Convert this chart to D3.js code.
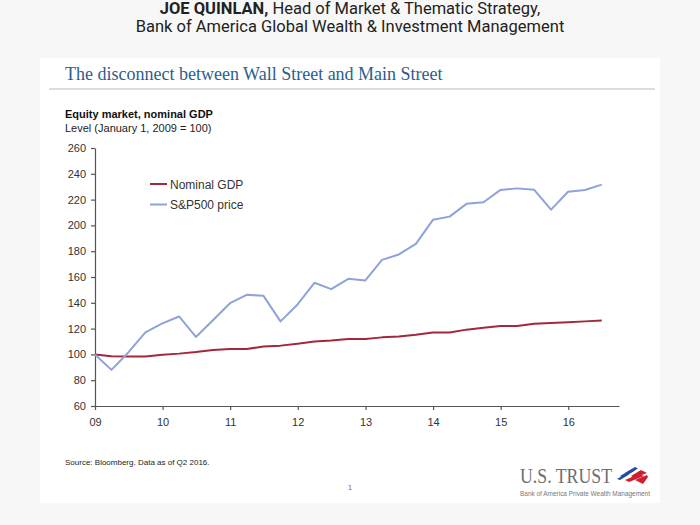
<!DOCTYPE html>
<html><head><meta charset="utf-8">
<script src="https://cdn.jsdelivr.net/npm/d3@7"></script>
<style>body{margin:0;background:#f7f7f7;} svg{display:block}</style>
</head><body>
<svg id="c" width="700" height="525"></svg>
<script>
// ---- data ----
const quarters = [
  "2009-01-01","2009-03-31","2009-06-30","2009-09-30","2009-12-31",
  "2010-03-31","2010-06-30","2010-09-30","2010-12-31",
  "2011-03-31","2011-06-30","2011-09-30","2011-12-31",
  "2012-03-31","2012-06-30","2012-09-30","2012-12-31",
  "2013-03-31","2013-06-30","2013-09-30","2013-12-31",
  "2014-03-31","2014-06-30","2014-09-30","2014-12-31",
  "2015-03-31","2015-06-30","2015-09-30","2015-12-31",
  "2016-03-31","2016-06-30"
];
const nominalGDP = [100, 98.5, 98.3, 98.4, 99.8, 100.6, 101.8, 103.4, 104.1, 104.2, 106.1, 106.8, 108.3, 110.0, 110.7, 111.9, 111.9, 113.2, 113.9, 115.2, 116.9, 116.9, 119.2, 120.7, 122.0, 122.0, 123.8, 124.3, 124.9, 125.6, 126.3];
const sp500 = [100, 88, 101.5, 117, 124, 129.4, 113.5, 126.5, 139.7, 146.2, 145.4, 125.6, 138.7, 155.5, 150.6, 158.6, 157.3, 173.3, 177.5, 185.7, 204.3, 206.8, 216.7, 217.9, 227.5, 228.7, 227.7, 212.2, 226.1, 227.5, 231.6];
const seriesNames = ["Nominal GDP", "S&P500 price"];
const yTicks = [60, 80, 100, 120, 140, 160, 180, 200, 220, 240, 260];
const xTickYears = [2009, 2010, 2011, 2012, 2013, 2014, 2015, 2016];
const xTickLabels = ["09", "10", "11", "12", "13", "14", "15", "16"];

// ---- drawing ----
const svg = d3.select("#c");
const sans = "'Liberation Sans', Arial, sans-serif";
const parse = d3.timeParse("%Y-%m-%d");
const dates = quarters.map(parse);

// header
const h1 = svg.append("text").attr("x", 350).attr("y", 14).attr("text-anchor", "middle")
  .style("font-family", "Roboto, sans-serif").style("font-size", "16.5px").attr("fill", "#222");
h1.append("tspan").attr("font-weight", "bold").text("JOE QUINLAN,");
h1.append("tspan").text(" Head of Market & Thematic Strategy,");
svg.append("text").attr("x", 350).attr("y", 32).attr("text-anchor", "middle")
  .style("font-family", "Roboto, sans-serif").style("font-size", "16.5px").attr("fill", "#222")
  .text("Bank of America Global Wealth & Investment Management");

// white panel
svg.append("rect").attr("x", 40).attr("y", 58).attr("width", 620).attr("height", 445).attr("fill", "#fff");

// slide title
svg.append("text").attr("x", 65).attr("y", 80)
  .style("font-family", "'Liberation Serif', 'Times New Roman', serif").style("font-size", "18px")
  .attr("fill", "#2b5e8e").text("The disconnect between Wall Street and Main Street");
svg.append("line").attr("x1", 49).attr("x2", 655).attr("y1", 89).attr("y2", 89)
  .attr("stroke", "#dcdcdc").attr("stroke-width", 2);

// chart heading
svg.append("text").attr("x", 65).attr("y", 118).style("font-family", sans).style("font-size", "11px")
  .attr("font-weight", "bold").attr("fill", "#111").text("Equity market, nominal GDP");
svg.append("text").attr("x", 65).attr("y", 132).style("font-family", sans).style("font-size", "11px")
  .attr("fill", "#222").text("Level (January 1, 2009 = 100)");

// scales
const x = d3.scaleTime().domain([new Date(2009, 0, 1), new Date(2016, 9, 1)]).range([95, 619]);
const y = d3.scaleLinear().domain([60, 260]).range([406, 148]);

// axes
const yAxis = svg.append("g").attr("transform", "translate(95,0)")
  .call(d3.axisLeft(y).tickValues(yTicks).tickSize(4).tickSizeOuter(0).tickPadding(5));
const xAxis = svg.append("g").attr("transform", "translate(0,406)")
  .call(d3.axisBottom(x).tickValues(xTickYears.map(yy => new Date(yy, 0, 1)))
    .tickFormat((d, i) => xTickLabels[i]).tickSize(4).tickSizeOuter(0).tickPadding(8));
[yAxis, xAxis].forEach(g => {
  g.selectAll("path, line").attr("stroke", "#555").attr("stroke-width", 1.2);
  g.selectAll("text").style("font-family", sans).style("font-size", "11px").attr("fill", "#333");
});

// lines
const line = d3.line().x((d, i) => x(dates[i])).y(d => y(d));
const colors = ["#a3283a", "#8ea2dc"];
[nominalGDP, sp500].forEach((s, k) => {
  svg.append("path").datum(s).attr("d", line).attr("fill", "none")
    .attr("stroke", colors[k]).attr("stroke-width", 2).attr("stroke-linejoin", "round");
});

// legend
seriesNames.forEach((n, k) => {
  const ly = 184 + k * 20.5;
  svg.append("line").attr("x1", 150).attr("x2", 167).attr("y1", ly).attr("y2", ly)
    .attr("stroke", colors[k]).attr("stroke-width", 2);
  svg.append("text").attr("x", 170).attr("y", ly + 4.5).style("font-family", sans)
    .style("font-size", "12px").attr("fill", "#333").text(n);
});

// footer
svg.append("text").attr("x", 65).attr("y", 465).style("font-family", sans).style("font-size", "8px")
  .attr("fill", "#222").text("Source: Bloomberg. Data as of Q2 2016.");
svg.append("text").attr("x", 350).attr("y", 490).attr("text-anchor", "middle").style("font-family", sans)
  .style("font-size", "8px").attr("fill", "#777").text("1");

// logo
svg.append("text").attr("x", 520).attr("y", 483)
  .style("font-family", "'Liberation Serif', 'Times New Roman', serif").style("font-size", "21px")
  .attr("fill", "#6d6e71").attr("textLength", 92).attr("lengthAdjust", "spacingAndGlyphs").text("U.S. TRUST");
svg.append("text").attr("x", 520).attr("y", 496).style("font-family", sans).style("font-size", "7px")
  .attr("fill", "#777").attr("textLength", 130).attr("lengthAdjust", "spacingAndGlyphs")
  .text("Bank of America Private Wealth Management");
const flag = svg.append("g").attr("transform", "translate(617,467)");
const stripes = [
  {c: "#1f4fa3", p: "M8,6 L18,0 L21,1.5 L11,7.5 Z"},
  {c: "#1f4fa3", p: "M3,9 L15,2 L18,3.5 L6,10.5 Z"},
  {c: "#1f4fa3", p: "M0,12 L10,6 L12,7.5 L3,13 Z"},
  {c: "#d01f2e", p: "M14,9 L24,3 L30,6 L17,11 Z"},
  {c: "#d01f2e", p: "M8,13 L22,7 L27,9 L12,15 Z"},
  {c: "#d01f2e", p: "M18,13 L30,8 L31,10 L26,17 Z"}
];
stripes.forEach(s => flag.append("path").attr("d", s.p).attr("fill", s.c));
</script>
</body></html>
